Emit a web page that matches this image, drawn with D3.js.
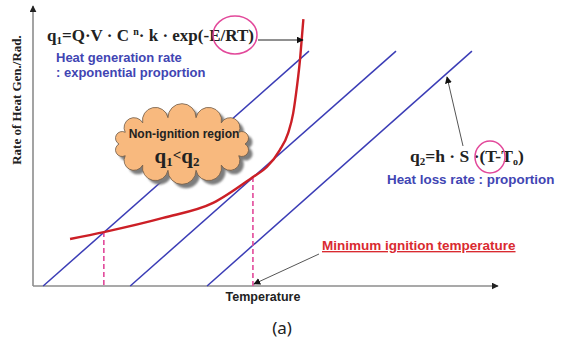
<!DOCTYPE html>
<html>
<head>
<meta charset="utf-8">
<script src="https://cdn.jsdelivr.net/npm/d3@7"></script>
<style>
  body { margin: 0; background: #fff; }
  svg { display: block; }
</style>
</head>
<body>
<div id="chart"></div>
<script>
// heat loss lines q2 = h*S*(T - T0): start temperature (q=0) and end point
const lossStartT = [2.2, 21.0, 37.6];
const lossEndT = [59.6, 78.4, 94.8];
const lossEndQ = 84.5;
// heat generation curve q1
const genT = [8.0, 15.3, 28.1, 38.9, 47.5, 50.5, 53.3, 55.1, 56.2, 57.0, 57.7, 58.1, 58.4];
const genQ = [16.9, 19.4, 24.5, 29.9, 39.2, 42.8, 48.9, 55.0, 62.2, 71.6, 82.0, 90.0, 96.0];
// points where the dashed drop lines go down
const dropT = [15.3, 47.5];
const dropQ = [19.4, 39.2];

const width = 570, height = 348;
const svg = d3.select("#chart").append("svg")
    .attr("width", width)
    .attr("height", height);

const x = d3.scaleLinear().domain([0, 100]).range([33, 496]);
const y = d3.scaleLinear().domain([0, 100]).range([286, 8]);

const blue = "#3b3db6", red = "#cc1f26", pink = "#e2489a", textBlue = "#4145b3";

const defs = svg.append("defs");
function marker(id, color) {
    defs.append("marker")
        .attr("id", id)
        .attr("viewBox", "0 0 10 10")
        .attr("refX", 9).attr("refY", 5)
        .attr("markerWidth", 7).attr("markerHeight", 7)
        .attr("markerUnits", "userSpaceOnUse")
        .attr("orient", "auto")
        .append("path").attr("d", "M0,0L10,5L0,10Z").attr("fill", color);
}
marker("arrBlack", "#111");
marker("arrAxis", "#222");
defs.append("filter").attr("id", "blur")
    .append("feGaussianBlur").attr("stdDeviation", 1.2);

// axes
svg.append("line")
    .attr("x1", x(0)).attr("y1", y(0)).attr("x2", x(0)).attr("y2", 6)
    .attr("stroke", "#8c8c8c").attr("stroke-width", 1.6)
    .attr("marker-end", "url(#arrAxis)");
svg.append("line")
    .attr("x1", x(0)).attr("y1", y(0)).attr("x2", 498).attr("y2", y(0))
    .attr("stroke", "#8c8c8c").attr("stroke-width", 1.6)
    .attr("marker-end", "url(#arrAxis)");

// heat loss lines
svg.selectAll(".loss")
    .data(lossStartT.map((t, i) => [[t, 0], [lossEndT[i], lossEndQ]]))
    .enter().append("path")
    .attr("class", "loss")
    .attr("d", d3.line().x(d => x(d[0])).y(d => y(d[1])))
    .attr("fill", "none")
    .attr("stroke", blue)
    .attr("stroke-width", 1.5);

// dashed drop lines
svg.selectAll(".drop")
    .data(dropT)
    .enter().append("line")
    .attr("x1", d => x(d)).attr("x2", d => x(d))
    .attr("y1", (d, i) => y(dropQ[i])).attr("y2", y(0))
    .attr("stroke", pink)
    .attr("stroke-width", 1.6)
    .attr("stroke-dasharray", "5,3");

// cloud: bumps laid round an ellipse
const cx = 182, cy = 144, rx = 63, ry = 27, nb = 14;
let pts = [];
for (let i = 0; i < nb; i++) {
    const a = Math.PI + i * 2 * Math.PI / nb;
    pts.push([cx + rx * Math.cos(a), cy + ry * Math.sin(a)]);
}
let cloud = "M" + pts[0][0] + "," + pts[0][1];
pts.forEach((p, i) => {
    const q = pts[(i + 1) % nb];
    const c = Math.hypot(q[0] - p[0], q[1] - p[1]);
    const r = c * 0.5;
    cloud += "A" + r + "," + r + " 0 0 1 " + q[0] + "," + q[1];
});
cloud += "Z";
svg.append("path").attr("d", cloud)
    .attr("transform", "translate(4,4)")
    .attr("fill", "#7d7d7d")
    .attr("filter", "url(#blur)");
svg.append("path").attr("d", cloud)
    .attr("fill", "#f8b97e")
    .attr("stroke", "#6e5a48")
    .attr("stroke-width", 0.8);

// heat generation curve
svg.append("path")
    .datum(genT.map((t, i) => [t, genQ[i]]))
    .attr("d", d3.line().x(d => x(d[0])).y(d => y(d[1])).curve(d3.curveMonotoneX))
    .attr("fill", "none")
    .attr("stroke", red)
    .attr("stroke-width", 2.4);

// q1 formula
const serif = "'Liberation Serif', 'Times New Roman', serif";
const sans = "'Liberation Sans', Arial, sans-serif";
const f1 = svg.append("text")
    .attr("x", 47).attr("y", 41)
    .attr("font-family", serif).attr("font-weight", "bold")
    .attr("font-size", 17).attr("fill", "#222");
f1.append("tspan").text("q");
f1.append("tspan").attr("font-size", 11).attr("dy", 3).text("1");
f1.append("tspan").attr("dy", -3).text("=Q·V · C ");
f1.append("tspan").attr("font-size", 10).attr("dy", -6).text("n");
f1.append("tspan").attr("dy", 6).text("· k · exp(-E/RT)");

svg.append("ellipse")
    .attr("cx", 235).attr("cy", 35).attr("rx", 22).attr("ry", 19)
    .attr("fill", "none").attr("stroke", pink).attr("stroke-width", 1.5);
svg.append("line")
    .attr("x1", 258).attr("y1", 40).attr("x2", 303).attr("y2", 40)
    .attr("stroke", "#222").attr("stroke-width", 1)
    .attr("marker-end", "url(#arrBlack)");

svg.append("text").attr("x", 56).attr("y", 62)
    .attr("font-family", sans).attr("font-weight", "bold")
    .attr("font-size", 13).attr("fill", textBlue)
    .text("Heat generation rate");
svg.append("text").attr("x", 56).attr("y", 77)
    .attr("font-family", sans).attr("font-weight", "bold")
    .attr("font-size", 13).attr("fill", textBlue)
    .text(": exponential proportion");

// cloud text
svg.append("text").attr("x", 184).attr("y", 138)
    .attr("text-anchor", "middle")
    .attr("font-family", sans).attr("font-weight", "bold")
    .attr("font-size", 12).attr("fill", "#222")
    .text("Non-ignition region");
const f3 = svg.append("text").attr("x", 177).attr("y", 163)
    .attr("text-anchor", "middle")
    .attr("font-family", serif).attr("font-weight", "bold")
    .attr("font-size", 21).attr("fill", "#222");
f3.append("tspan").text("q");
f3.append("tspan").attr("font-size", 13).attr("dy", 3).text("1");
f3.append("tspan").attr("font-size", 15).attr("dy", -6).text("<");
f3.append("tspan").attr("dy", 3).text("q");
f3.append("tspan").attr("font-size", 13).attr("dy", 3).text("2");

// q2 formula
const f2 = svg.append("text")
    .attr("x", 410).attr("y", 162)
    .attr("font-family", serif).attr("font-weight", "bold")
    .attr("font-size", 17.5).attr("fill", "#222");
f2.append("tspan").text("q");
f2.append("tspan").attr("font-size", 11).attr("dy", 3).text("2");
f2.append("tspan").attr("dy", -3).text("=h · S ·(T-T");
f2.append("tspan").attr("font-size", 10).attr("dy", 3).text("o");
f2.append("tspan").attr("dy", -3).text(")");

svg.append("ellipse")
    .attr("cx", 490).attr("cy", 157).attr("rx", 15).attr("ry", 16)
    .attr("fill", "none").attr("stroke", pink).attr("stroke-width", 1.5);
svg.append("line")
    .attr("x1", 463).attr("y1", 146).attr("x2", 447).attr("y2", 77)
    .attr("stroke", "#555").attr("stroke-width", 1)
    .attr("marker-end", "url(#arrBlack)");

svg.append("text").attr("x", 387).attr("y", 184)
    .attr("font-family", sans).attr("font-weight", "bold")
    .attr("font-size", 13.4).attr("fill", textBlue)
    .text("Heat loss rate : proportion");

// minimum ignition temperature
svg.append("text").attr("x", 322).attr("y", 250)
    .attr("font-family", sans).attr("font-weight", "bold")
    .attr("font-size", 13.5).attr("fill", "#d92a30")
    .attr("text-decoration", "underline")
    .text("Minimum ignition temperature");
svg.append("line")
    .attr("x1", 319).attr("y1", 254).attr("x2", x(dropT[1]) + 1).attr("y2", y(0) - 2)
    .attr("stroke", "#555").attr("stroke-width", 1)
    .attr("marker-end", "url(#arrBlack)");

// axis titles
svg.append("text").attr("x", 263).attr("y", 301)
    .attr("text-anchor", "middle")
    .attr("font-family", sans).attr("font-weight", "bold")
    .attr("font-size", 12.5).attr("fill", "#222")
    .text("Temperature");
svg.append("text")
    .attr("transform", "translate(21,100) rotate(-90)")
    .attr("text-anchor", "middle")
    .attr("font-family", serif).attr("font-weight", "bold")
    .attr("font-size", 13).attr("fill", "#222")
    .text("Rate of Heat Gen./Rad.");

svg.append("text").attr("x", 282).attr("y", 334)
    .attr("text-anchor", "middle")
    .attr("font-family", "'Noto Sans', sans-serif")
    .attr("font-size", 17).attr("fill", "#222")
    .text("(a)");
</script>
</body>
</html>
